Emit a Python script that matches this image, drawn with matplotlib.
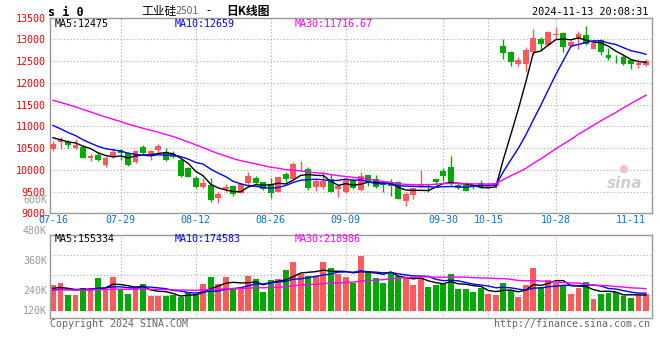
import numpy as np
import pandas as pd
import matplotlib
matplotlib.use("Agg")
import matplotlib.pyplot as plt

# ---------------- data ----------------
dates = ["07-16", "07-17", "07-18", "07-19", "07-22", "07-23", "07-24", "07-25", "07-26", "07-29",
         "07-30", "07-31", "08-01", "08-02", "08-05", "08-06", "08-07", "08-08", "08-09", "08-12",
         "08-13", "08-14", "08-15", "08-16", "08-19", "08-20", "08-21", "08-22", "08-23", "08-26",
         "08-27", "08-28", "08-29", "08-30", "09-02", "09-03", "09-04", "09-05", "09-06", "09-09",
         "09-10", "09-11", "09-12", "09-13", "09-18", "09-19", "09-20", "09-23", "09-24", "09-25",
         "09-26", "09-27", "09-30", "10-08", "10-09", "10-10", "10-11", "10-14", "10-15", "10-16",
         "10-17", "10-18", "10-21", "10-22", "10-23", "10-24", "10-25", "10-28", "10-29", "10-30",
         "10-31", "11-01", "11-04", "11-05", "11-06", "11-07", "11-08", "11-11", "11-12", "11-13"]

opens = [10485, 10639, 10639, 10500, 10523, 10262, 10346, 10100, 10308, 10462,
         10385, 10169, 10515, 10362, 10462, 10408, 10369, 10215, 10038, 9823,
         9608, 9654, 9346, 9554, 9631, 9477, 9692, 9823, 9715, 9669,
         9500, 9908, 9792, 10100, 10023, 9615, 9615, 9792, 9554, 9500,
         9769, 9538, 9885, 9792, 9708, 9692, 9715, 9285, 9423, 9615,
         9631, 9785, 9962, 10069, 9654, 9654, 9640, 9693, 9610, 9624,
         12848, 12711, 12430, 12445, 12711, 13015, 12878, 13106, 13140, 12848,
         13000, 13091, 12787, 12977, 12650, 12559, 12597, 12536, 12407, 12407]
highs = [10654, 10754, 10677, 10715, 10577, 10362, 10408, 10308, 10500, 10470,
         10400, 10454, 10577, 10454, 10600, 10500, 10438, 10254, 10062, 9869,
         9808, 9808, 9500, 9669, 9654, 9692, 9939, 9869, 9731, 9808,
         9846, 9939, 10169, 10192, 10054, 9808, 9962, 9900, 9654, 9808,
         9808, 9939, 9885, 9885, 9746, 9785, 9746, 9500, 9615, 10000,
         9692, 9823, 10038, 10308, 9715, 9731, 9680, 9770, 9690, 9710,
         13000, 12726, 12597, 12825, 13243, 13053, 13205, 13281, 13175, 12977,
         13205, 13304, 12954, 13000, 12802, 12635, 12650, 12559, 12544, 12559]
lows = [10423, 10477, 10500, 10485, 10262, 10192, 10208, 10054, 10269, 10215,
        10092, 10146, 10331, 10231, 10385, 10192, 10269, 9839, 9831, 9592,
        9577, 9269, 9246, 9500, 9400, 9462, 9615, 9669, 9538, 9362,
        9485, 9731, 9769, 9985, 9538, 9523, 9562, 9485, 9385, 9462,
        9554, 9523, 9631, 9592, 9500, 9408, 9323, 9169, 9331, 9615,
        9500, 9654, 9746, 9654, 9554, 9508, 9570, 9578, 9600, 9590,
        12544, 12384, 12384, 12255, 12635, 12749, 12840, 13015, 12700, 12825,
        12787, 12878, 12787, 12635, 12536, 12460, 12407, 12316, 12354, 12392]
closes = [10600, 10715, 10562, 10577, 10269, 10323, 10223, 10262, 10408, 10385,
          10100, 10438, 10377, 10423, 10538, 10215, 10292, 9862, 9846, 9615,
          9708, 9308, 9446, 9608, 9439, 9669, 9862, 9708, 9562, 9477,
          9846, 9785, 10138, 10115, 9577, 9754, 9754, 9500, 9631, 9769,
          9577, 9869, 9746, 9615, 9654, 9631, 9331, 9446, 9577, 9654,
          9608, 9731, 9862, 9669, 9577, 9523, 9600, 9601, 9625, 9700,
          12690, 12470, 12520, 12760, 13030, 12890, 13170, 13129, 12820, 12950,
          13114, 12901, 12924, 12710, 12566, 12545, 12440, 12435, 12460, 12495]
volumes_k = [256, 279, 156, 156, 226, 226, 325, 206, 336, 212,
             166, 245, 265, 146, 146, 146, 156, 133, 189, 166,
             265, 336, 265, 336, 212, 232, 345, 315, 189, 306,
             315, 405, 484, 365, 345, 345, 484, 425, 365, 336,
             272, 547, 395, 325, 275, 384, 345, 325, 256, 325,
             236, 256, 265, 366, 215, 215, 186, 226, 166, 156,
             275, 206, 136, 256, 425, 236, 306, 275, 256, 166,
             224, 286, 117, 166, 176, 182, 146, 126, 156, 167]

# closes / volumes before 07-16 (only used for the moving averages)
hist_closes = [12150, 12120, 12100, 12060, 12040, 12010, 11980, 11960, 11930, 11900,
               11880, 11850, 11820, 11790, 11770, 11740, 11710, 11680, 11650, 11620,
               11500, 11400, 11300, 11230, 11100, 10950, 10800, 10700, 10640]
hist_volumes_k = [210, 190, 230, 200, 215, 185, 240, 205, 195, 220,
                  200, 210, 230, 190, 205, 215, 200, 225, 195, 190,
                  170, 195, 180, 200, 175, 230, 200, 215, 209]

price_ticks = [9000, 9500, 10000, 10500, 11000, 11500, 12000, 12500, 13000, 13500]
date_ticks = ["07-16", "07-29", "08-12", "08-26", "09-09", "09-30", "10-15", "10-28", "11-11"]
grid_dates = ["07-29", "08-12", "08-26", "09-09", "09-30", "10-15", "10-28"]
vol_tick_labels = ["600K", "480K", "360K", "240K", "120K"]
ma_windows = [5, 10, 30]
ma_names = ["MA5", "MA10", "MA30"]
ma_price_values = ["12475", "12659", "11716.67"]
ma_vol_values = ["155334", "174583", "218986"]

# ---------------- styles ----------------
RED = "#ff5a5a"
GREEN = "#00a800"
MA_COLORS = ["#000000", "#0000ff", "#ff00ff"]
GRID = "#aaaaaa"
BORDER = "#999999"
MONO = "DejaVu Sans Mono"
W, H = 660, 360


def fx(px):
    return px / W


def fy(py):
    return 1 - py / H


fig = plt.figure(figsize=(6.6, 3.6), dpi=100)
fig.patch.set_facecolor("white")

ax = fig.add_axes([fx(50), fy(213.3), fx(602), (213.3 - 17.7) / H])
axv = fig.add_axes([fx(50), fy(317.7), fx(602), (317.7 - 234.7) / H])

n = len(dates)
x = np.arange(n)
o = np.array(opens, float)
c = np.array(closes, float)
hi = np.array(highs, float)
lo = np.array(lows, float)
up = c >= o
cols = np.where(up, RED, GREEN)

# moving averages
all_c = pd.Series(hist_closes + closes, dtype=float)
all_v = pd.Series(hist_volumes_k + volumes_k, dtype=float) * 1000
ma_price = [all_c.rolling(w).mean().values[-n:] for w in ma_windows]
ma_vol = [all_v.rolling(w).mean().values[-n:] for w in ma_windows]

grid_idx = [dates.index(d) for d in grid_dates]
for a in (ax, axv):
    a.set_xlim(-0.4, n - 0.2)
    for s in a.spines.values():
        s.set_color(BORDER)
        s.set_linewidth(1.0)
    a.tick_params(length=0)
    for gi in grid_idx:
        a.axvline(gi, color=GRID, lw=0.8, ls=(0, (1, 2)), zorder=0)

# price panel
ax.set_ylim(price_ticks[0], price_ticks[-1])
for t in price_ticks[1:-1]:
    ax.axhline(t, color=GRID, lw=0.8, ls=(0, (1, 2)), zorder=0)
ax.vlines(x, lo, hi, colors=cols, lw=1.0, zorder=2)
body_h = np.where(np.abs(c - o) < 12, 12, np.abs(c - o))
ax.bar(x, body_h, bottom=np.minimum(o, c), width=0.78, color=cols, edgecolor=cols,
       linewidth=0, zorder=3)
for m, col in zip(ma_price, MA_COLORS):
    ax.plot(x, m, color=col, lw=1.0, zorder=4)

ax.set_yticks(price_ticks)
ax.set_yticklabels([str(t) for t in price_ticks], color="#ff0000", fontsize=7.2,
                   family=MONO)
ax.tick_params(axis="y", pad=3)
ax.set_xticks([dates.index(d) for d in date_ticks])
ax.set_xticklabels(date_ticks, color="#0a74c8", fontsize=7.2, family=MONO)
ax.tick_params(axis="x", pad=1.5)

# volume panel
vol = np.array(volumes_k, float) * 1000
axv.set_ylim(-70e3, 757e3)
for g in (156e3, 355e3, 554e3):
    axv.axhline(g, color=GRID, lw=0.8, ls=(0, (1, 2)), zorder=0)
axv.bar(x, vol, width=0.78, color=cols, linewidth=0, zorder=2)
for m, col in zip(ma_vol, MA_COLORS):
    axv.plot(x, m, color=col, lw=1.0, zorder=4)
axv.set_xticks([])
axv.set_yticks([])

for lab, py in zip(vol_tick_labels, [200, 231, 261, 291, 311]):
    fig.text(fx(47), fy(py), lab, color="#9a9a9a", fontsize=7.2, family=MONO,
             ha="right", va="center")

# MA value labels
for k, px in enumerate([55, 175, 295]):
    fig.text(fx(px), fy(24), f"{ma_names[k]}:{ma_price_values[k]}", color=MA_COLORS[k],
             fontsize=7.2, family=MONO, ha="left", va="center")
    fig.text(fx(px), fy(239), f"{ma_names[k]}:{ma_vol_values[k]}", color=MA_COLORS[k],
             fontsize=7.2, family=MONO, ha="left", va="center")

# header
fig.text(fx(48), fy(12), "s i 0", fontsize=8.5, family=MONO, weight="bold",
         ha="left", va="center")
cjk = ["Noto Sans CJK SC", "DejaVu Sans"]
fig.text(fx(141), fy(11), "工业硅", fontsize=8.5, family=cjk, ha="left", va="center")
fig.text(fx(176), fy(11.5), "2501", fontsize=7.5, family=cjk, color="#666666",
         ha="left", va="center")
fig.text(fx(206), fy(11), "-", fontsize=8.5, family=cjk, ha="left", va="center")
fig.text(fx(226), fy(11), "日K线图", fontsize=8.5, family=cjk, ha="left",
         va="center", weight="bold")
fig.text(fx(648), fy(12), "2024-11-13 20:08:31", fontsize=7.4, family=MONO,
         ha="right", va="center")

# footer
fig.text(fx(50), fy(324), "Copyright 2024 SINA.COM", fontsize=7.2, family=MONO,
         color="#666666", ha="left", va="center")
fig.text(fx(650), fy(324), "http://finance.sina.com.cn", fontsize=7.2, family=MONO,
         color="#666666", ha="right", va="center")

# sina watermark
fig.text(fx(625), fy(183), "sina", fontsize=11, style="italic", weight="bold",
         color="#cfcfcf", ha="center", va="center", family="DejaVu Sans")
fig.text(fx(623), fy(169), "●", fontsize=8, color="#f3c4c4", ha="center",
         va="center", family="DejaVu Sans")

fig.savefig("out.png", dpi=100, facecolor="white")
